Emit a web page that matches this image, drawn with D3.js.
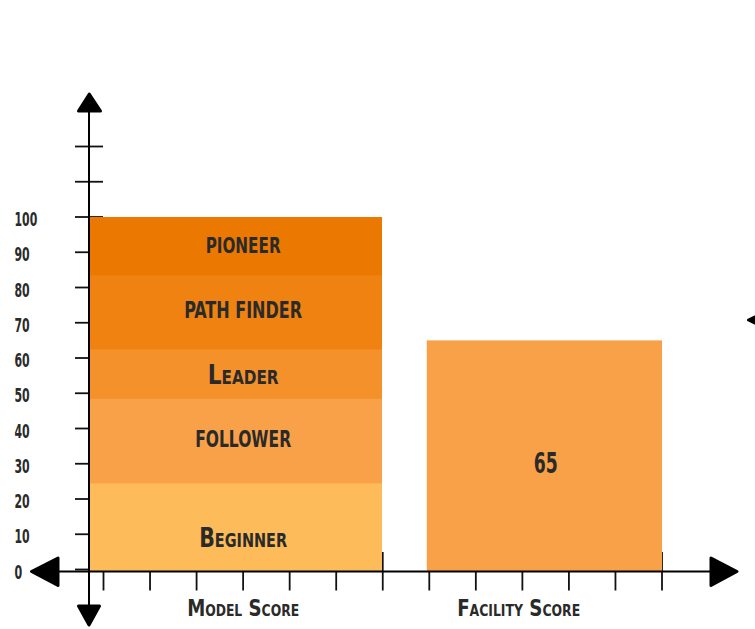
<!DOCTYPE html>
<html><head><meta charset="utf-8">
<script src="https://cdn.jsdelivr.net/npm/d3@7"></script>
<style>
html,body{margin:0;padding:0;background:#fff;}
svg{display:block;}
text{font-family:"Liberation Sans Narrow","DejaVu Sans Condensed","Arial Narrow",sans-serif;font-weight:bold;fill:#2a2a2a;font-variant:small-caps;}
</style></head><body>
<svg id="chart" width="755" height="629"></svg>
<script>
// ---- data ----
const categories = ["Model Score", "Facility Score"];
const levelNames = ["Beginner", "FOLLOWER", "Leader", "PATH FINDER", "PIONEER"];
const levelStart = [0, 25, 49, 63, 84];
const levelEnd = [25, 49, 63, 84, 100];
const facilityScore = [65];
const yTickValues = [0, 10, 20, 30, 40, 50, 60, 70, 80, 90, 100];
const yTickLabels = ["0", "10", "20", "30", "40", "50", "60", "70", "80", "90", "100"];
const yExtraTicks = [110, 120];
const xTickValues = [0, 1, 2, 3, 4, 5, 6, 7, 8, 9, 10, 11, 12];

// ---- rendering ----
const svg = d3.select("#chart");
const axisX = 89, axisY = 571.5;
const y = d3.scaleLinear().domain([0, 120]).range([569.5, 146.5]);
const x = d3.scaleLinear().domain([0, 12]).range([103.5, 662]);
const color = d3.scaleOrdinal().domain(levelNames)
  .range(["#FDBB5A", "#F8A149", "#F4912B", "#EF8211", "#EB7901"]);
const facilityColor = "#F8A148";
const labelWidth = {"Beginner": 88, "FOLLOWER": 96, "Leader": 71, "PATH FINDER": 118, "PIONEER": 75};
const labelSize = {"Beginner": 27, "FOLLOWER": 23, "Leader": 27, "PATH FINDER": 22.5, "PIONEER": 22};

// y ticks (drawn under bars)
svg.append("g").selectAll("line").data(yTickValues.concat(yExtraTicks)).join("line")
  .attr("x1", 75).attr("x2", 103)
  .attr("y1", d => y(d)).attr("y2", d => y(d))
  .attr("stroke", "#111").attr("stroke-width", 1.8);

// x ticks
svg.append("g").selectAll("line").data(xTickValues).join("line")
  .attr("x1", d => x(d)).attr("x2", d => x(d))
  .attr("y1", 552).attr("y2", 590.5)
  .attr("stroke", "#111").attr("stroke-width", 1.8);

// stacked levels bar (Model Score)
const levels = levelNames.map((n, i) => ({name: n, a: levelStart[i], b: levelEnd[i]}));
svg.append("g").selectAll("rect").data(levels).join("rect")
  .attr("x", axisX).attr("width", x(6) - 0.75 - axisX)
  .attr("y", d => y(d.b)).attr("height", d => y(d.a) - y(d.b) + 2)
  .attr("fill", d => color(d.name));

// facility bar
svg.append("g").selectAll("rect").data(facilityScore).join("rect")
  .attr("x", x(7) - 2.5).attr("width", x(12) - x(7) + 2.5)
  .attr("y", d => y(d)).attr("height", d => y(0) - y(d) + 2)
  .attr("fill", facilityColor);

// axis lines
svg.append("line").attr("x1", 40).attr("x2", 725).attr("y1", axisY).attr("y2", axisY)
  .attr("stroke", "#000").attr("stroke-width", 2);
svg.append("line").attr("x1", axisX).attr("x2", axisX).attr("y1", 105).attr("y2", 612)
  .attr("stroke", "#000").attr("stroke-width", 2);

// arrow heads
function tri(pts) {
  svg.append("path").attr("d", "M" + pts.map(p => p.join(",")).join("L") + "Z")
    .attr("fill", "#000").attr("stroke", "#000").attr("stroke-width", 3)
    .attr("stroke-linejoin", "round");
}
tri([[89.3, 94], [78.5, 111], [100.5, 111]]);           // up
tri([[89, 625], [78.5, 606], [99.5, 606]]);             // down
tri([[31.5, 571.5], [58, 558], [58, 585.5]]);           // left
tri([[737, 571.5], [711, 558], [711, 585.5]]);          // right
tri([[748.5, 320], [777, 306], [777, 334]]);            // cut arrow at right edge

// y labels
svg.append("g").selectAll("text").data(yTickValues).join("text")
  .attr("x", 14.5).attr("y", d => y(d) + 9)
  .attr("font-size", 19.5)
  .attr("textLength", (d, i) => yTickLabels[i].length * 7.7 - (yTickLabels[i].length - 1) * 0.2)
  .attr("lengthAdjust", "spacingAndGlyphs")
  .text((d, i) => yTickLabels[i]);

// level labels
const cx = (x(0) + x(6)) / 2;
svg.append("g").selectAll("text").data(levels).join("text")
  .attr("x", cx)
  .attr("y", d => d.name === "Beginner" ? y(d.a) - 22.5 : (y(d.a) + y(d.b)) / 2 + 8 + (d.name === "Leader" ? 4 : 0))
  .attr("text-anchor", "middle")
  .attr("font-size", d => labelSize[d.name])
  .attr("textLength", d => labelWidth[d.name])
  .attr("lengthAdjust", "spacingAndGlyphs")
  .text(d => d.name);

// facility value label
svg.append("g").selectAll("text").data(facilityScore).join("text")
  .attr("x", (x(7) + x(12)) / 2).attr("y", d => (y(d) + y(0)) / 2 + 18.5)
  .attr("text-anchor", "middle").attr("font-size", 28)
  .attr("textLength", 24).attr("lengthAdjust", "spacingAndGlyphs")
  .text(d => d);

// category labels
const catX = [(x(0) + x(6)) / 2, (x(7) + x(12)) / 2 - 27];
const catW = [112, 123];
svg.append("g").selectAll("text").data(categories).join("text")
  .attr("x", (d, i) => catX[i]).attr("y", 616)
  .attr("text-anchor", "middle").attr("font-size", 23.5)
  .attr("textLength", (d, i) => catW[i]).attr("lengthAdjust", "spacingAndGlyphs")
  .text(d => d);
</script>
</body></html>
